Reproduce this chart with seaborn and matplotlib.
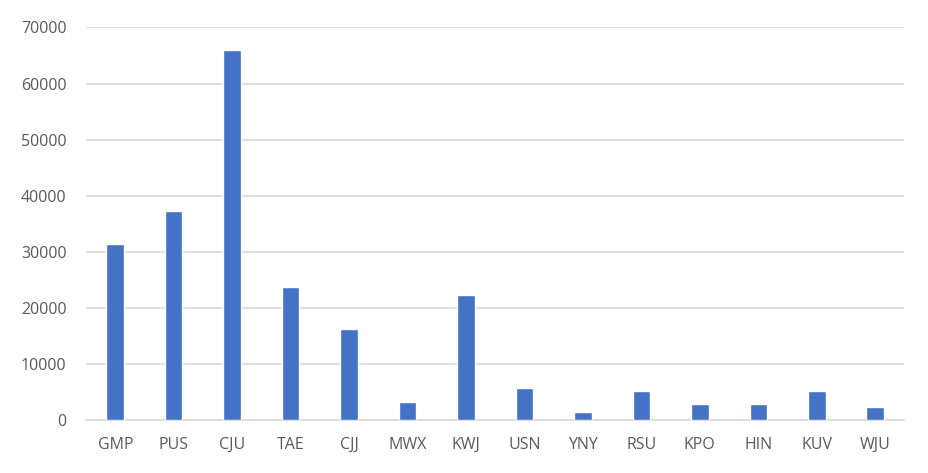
import matplotlib
matplotlib.use("Agg")
import matplotlib.pyplot as plt
import pandas as pd
import seaborn as sns

airports = ["GMP", "PUS", "CJU", "TAE", "CJJ", "MWX", "KWJ",
            "USN", "YNY", "RSU", "KPO", "HIN", "KUV", "WJU"]
counts = [31400, 37250, 66050, 23700, 16200, 3250, 22250,
          5750, 1500, 5200, 2900, 2900, 5200, 2350]
y_ticks = [0, 10000, 20000, 30000, 40000, 50000, 60000, 70000]

BAR_COLOR = "#4472C4"
GRID_COLOR = "#D9D9D9"
TEXT_COLOR = "#595959"

df = pd.DataFrame({"airport": airports, "count": counts})

sns.set_style("white")
plt.rcParams["font.family"] = ["Open Sans", "DejaVu Sans"]

fig = plt.figure(figsize=(9.29, 4.73), dpi=100)
ax = fig.add_axes([0.0926, 0.112, 0.881, 0.830])

sns.barplot(data=df, x="airport", y="count", color=BAR_COLOR, width=0.3,
            saturation=1, ax=ax, zorder=3)

ax.set_ylim(0, 70000)
ax.set_xlim(-0.5, len(airports) - 0.5)
ax.set_yticks(y_ticks)
ax.set_yticklabels([str(v) for v in y_ticks])
ax.yaxis.grid(True, color=GRID_COLOR, linewidth=1.2, zorder=0)
ax.set_axisbelow(True)
ax.set_xlabel("")
ax.set_ylabel("")

for side in ["top", "right", "left"]:
    ax.spines[side].set_visible(False)
ax.spines["bottom"].set_color(GRID_COLOR)
ax.spines["bottom"].set_linewidth(1.2)

ax.tick_params(axis="both", length=0, labelsize=11.5, colors=TEXT_COLOR)
ax.tick_params(axis="x", pad=12)
ax.tick_params(axis="y", pad=14)

fig.savefig("out.png", dpi=100, facecolor="white")
